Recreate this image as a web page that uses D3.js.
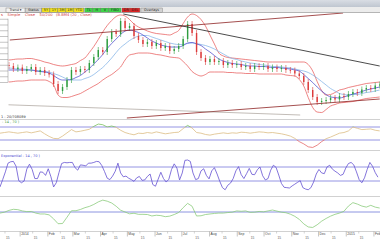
<!DOCTYPE html>
<html lang="en">
<head>
<script src="https://cdn.jsdelivr.net/npm/d3@7"></script>
<style>
  body { margin: 0; background: #fff; }
  svg { display: block; font-family: "DejaVu Sans", sans-serif; }
  text { white-space: pre; }
</style>
</head>
<body>
<div id="chart"></div>
<script>
// ---- data (one value every 5 days from 10 Dec 2013) ----
var startDate = new Date(2013, 11, 10);
var endDate = new Date(2015, 1, 8, 8);

var closeV = [1104,1106,1104,1098,1101,1094,1098,1102,1092,1096,
  1090,1087,1068,1054,1062,1076,1096,1092,1098,1096,
  1110,1122,1136,1132,1158,1172,1168,1194,1180,1184,
  1164,1156,1148,1152,1144,1150,1140,1144,1134,1138,
  1144,1158,1188,1170,1132,1120,1112,1118,1112,1114,
  1106,1110,1106,1108,1102,1104,1098,1104,1102,1104,
  1098,1101,1098,1100,1096,1095,1089,1084,1072,1056,
  1042,1032,1034,1036,1040,1037,1044,1042,1048,1052,
  1050,1057,1060,1058,1065,1067];
var bbUpper = [1116,1116,1116,1117,1118,1118,1119,1119,1117,1115,
  1112,1110,1107,1105,1104,1105,1107,1109,1115,1120,
  1131,1143,1157,1172,1185,1195,1203,1206,1204,1197,
  1188,1182,1178,1174,1171,1169,1168,1167,1166,1170,
  1175,1189,1202,1208,1205,1197,1184,1166,1148,1130,
  1124,1121,1120,1119,1118,1117,1116,1115,1114,1113,
  1112,1112,1112,1112,1112,1112,1112,1112,1112,1107,
  1094,1073,1055,1046,1047,1051,1056,1058,1061,1063,
  1065,1067,1069,1070,1071,1072];
var bbLower = [1072,1072,1072,1073,1074,1074,1075,1076,1076,1076,
  1076,1073,1066,1046,1041,1041,1043,1046,1049,1054,
  1059,1064,1069,1076,1082,1087,1094,1102,1116,1126,
  1128,1130,1130,1130,1129,1127,1126,1124,1122,1121,
  1120,1113,1104,1093,1087,1084,1087,1092,1092,1092,
  1092,1091,1091,1090,1090,1089,1089,1089,1088,1088,
  1088,1088,1088,1088,1086,1085,1084,1077,1064,1041,
  1021,1012,1011,1017,1024,1027,1030,1031,1032,1033,
  1035,1037,1039,1040,1041,1042];
var maFast = [1096,1096,1096,1096,1096,1096,1096,1096,1094,1093,
  1092,1090,1085,1079,1076,1076,1077,1081,1085,1092,
  1099,1108,1117,1127,1139,1149,1158,1167,1174,1176,
  1174,1171,1166,1160,1154,1150,1146,1144,1142,1142,
  1142,1145,1150,1151,1148,1145,1138,1132,1125,1118,
  1114,1111,1109,1108,1107,1105,1104,1104,1103,1103,
  1102,1101,1101,1100,1099,1098,1096,1094,1087,1079,
  1071,1062,1054,1047,1042,1041,1040,1042,1045,1048,
  1050,1053,1056,1058,1060,1062];
var maSlow = [1100,1100,1100,1099,1098,1098,1097,1096,1095,1094,
  1093,1092,1089,1086,1082,1078,1076,1076,1076,1079,
  1082,1087,1094,1101,1110,1120,1131,1141,1148,1155,
  1160,1164,1165,1165,1162,1159,1156,1153,1150,1148,
  1147,1147,1149,1150,1149,1147,1145,1142,1138,1133,
  1128,1123,1119,1117,1114,1112,1110,1109,1107,1106,
  1105,1103,1103,1102,1101,1100,1098,1096,1094,1091,
  1086,1080,1073,1066,1059,1054,1049,1047,1046,1047,
  1047,1049,1051,1052,1054,1056];
var rsiV = [51,53,55,53,51,53,55,52,55,58,
  49,41,35,34,42,52,62,55,57,60,
  63,72,79,77,70,73,69,60,53,49,
  46,51,50,53,51,55,52,49,51,53,
  54,65,75,67,53,51,47,45,48,50,
  52,50,52,51,54,53,51,53,55,54,
  52,53,51,49,46,42,35,25,18,9,
  7,14,25,34,39,45,51,53,58,70,
  66,62,63,64,60,58];
var momV = [-0.6,-0.1,0.9,1.5,1.3,0.6,0.2,0.3,-0.6,-1.1,
  -1.1,-1.6,-3.8,-6.5,-6.4,-2.9,0.7,0.7,1.4,2.4,
  3.1,4.2,5.6,6.6,6.0,5.0,3.2,1.0,0.0,-1.0,
  -0.7,-1.3,-1.3,-1.4,-2.2,-1.8,-2.0,-2.6,-2.3,-1.4,
  -0.3,2.4,4.8,3.2,-2.2,-2.1,-1.4,-1.1,-0.8,-0.6,
  -0.6,-0.3,-0.1,0.6,0.4,0.6,-0.2,-0.1,0.3,0.1,
  0.6,1.1,0.5,-0.1,-0.4,-1.2,-2.4,-4.1,-6.6,-8.3,
  -8.6,-7.1,-5.1,-3.6,-2.3,-1.3,-0.6,0.4,3.3,5.2,
  4.4,3.3,2.7,3.7,2.7,2.2];
// stochastic, one value every 3 days
var stochV = [13,34,56,81,85,86,72,31,25,30,
  64,78,63,37,37,56,55,46,65,42,
  13,25,54,80,83,82,83,83,68,61,
  76,75,73,81,81,83,86,85,74,57,
  38,34,44,58,81,53,42,44,38,34,
  29,39,43,32,33,43,50,20,15,35,
  55,37,27,35,63,79,67,33,53,89,
  90,86,53,34,37,59,65,46,36,59,
  68,50,29,11,5,18,24,37,59,71,
  48,37,51,66,49,48,62,70,45,33,
  37,61,75,69,47,23,12,11,10,16,
  21,26,31,11,7,5,11,27,50,63,
  53,51,70,75,64,58,53,46,49,67,
  80,83,76,56,34,25,39,63,83,72,
  54,41];

var rsiLevels = [30, 70];
var stochLevels = [30, 70];
var momLevels = [0];
var priceTicks = [1072,1083.5,1095,1106.5,1118,1129.5,1141,1152.5,1164,1175.5,1187,1198.5];

// drawn trend lines [date, price]
var trendLines = [
  [[new Date(2013, 11, 21), 1156], [new Date(2014, 11, 29), 1210]],
  [[new Date(2014, 3, 27), 1208], [new Date(2015, 1, 8), 1104]],
  [[new Date(2014, 4, 1), 1000], [new Date(2015, 1, 8), 1038]],
  [[new Date(2013, 11, 10), 1027], [new Date(2014, 10, 11), 1006]]
];
var trendColors = ["#8e2323", "#1e1e1e", "#8e2323", "#85786e"];

var toolButtons = [
  ["Trend \u25BE", "plain"], ["Status", "grey"],
  ["5Y", "yellow"], ["1Y", "yellow"], ["3M", "yellow"], ["1M", "yellow"], ["YTD", "yellow"],
  ["TL", "green"], ["H", "green"], ["V", "green"], ["FIBO", "green"],
  ["DR", "red"], ["DEL", "red"], ["Overlays", "grey"]
];
var buttonFill = {plain: "#f4f4f4", grey: "#d2d2d2", yellow: "#f2e21c", green: "#3fd24a", red: "#e02525"};

var dates = closeV.map(function(d, i) { return d3.timeDay.offset(startDate, 5 * i); });
var stochDates = stochV.map(function(d, i) { return d3.timeDay.offset(startDate, 3 * i); });

// ---- layout ----
var W = 380, H = 240;
var svg = d3.select("#chart").append("svg").attr("width", W).attr("height", H);
var defs = svg.append("defs");
function clip(id, x0, y0, w, h) {
  defs.append("clipPath").attr("id", id).append("rect")
    .attr("x", x0).attr("y", y0).attr("width", w).attr("height", h);
}

var x = d3.scaleTime().domain([startDate, endDate]).range([0, W]);
var y = d3.scaleLinear().domain([1000, 1202]).range([118, 17]);
var yRsi = d3.scaleLinear().domain([0, 100]).range([149.75, 117.25]);
var ySto = d3.scaleLinear().domain([0, 100]).range([191.5, 156.5]);
var yMom = d3.scaleLinear().domain([-10, 10]).range([230, 194]);

// toolbar
var grad = defs.append("linearGradient").attr("id", "bar").attr("x1", 0).attr("x2", 0).attr("y1", 0).attr("y2", 1);
grad.append("stop").attr("offset", "0%").attr("stop-color", "#d9dde4");
grad.append("stop").attr("offset", "100%").attr("stop-color", "#bfc6d0");
svg.append("rect").attr("width", W).attr("height", 7).attr("fill", "url(#bar)");
svg.append("rect").attr("y", 7).attr("width", W).attr("height", 5.5).attr("fill", "#ececec");

var bx = 6, prevKind = null;
toolButtons.forEach(function(b) {
  if (prevKind && prevKind !== b[1] && (b[1] === "green" || b[1] === "red" || b[0] === "Overlays")) bx += 1;
  var w = Math.max(8, 3 + b[0].length * 2.3);
  var g = svg.append("g").attr("transform", "translate(" + bx + ",8)");
  g.append("rect").attr("width", w).attr("height", 4.4)
    .attr("fill", buttonFill[b[1]]).attr("stroke", "#6f6f6f").attr("stroke-width", 0.4);
  g.append("text").attr("x", w / 2).attr("y", 3.4).attr("text-anchor", "middle")
    .attr("font-size", 3.4).attr("fill", "#222").text(b[0]);
  bx += w;
  prevKind = b[1];
});

// panel separators
[12.5, 119.5, 150.5, 196.5, 231.5].forEach(function(v, i) {
  svg.append("line").attr("x1", 0).attr("x2", W).attr("y1", v).attr("y2", v)
    .attr("stroke", i === 0 ? "#9a9a9a" : "#bdbdbd").attr("stroke-width", 0.7);
});

svg.append("text").attr("x", 1).attr("y", 16.4).attr("font-size", 3.7).attr("fill", "#d23a3a")
  .text("s    Simple    Close    50/200   (B.BM4 (20 , Close)");

// ---- main price panel ----
clip("cMain", 8.5, 12.8, W - 8.5, 106.5);
var main = svg.append("g").attr("clip-path", "url(#cMain)");

var line = function(arr, yy) {
  return d3.line().x(function(d, i) { return x(dates[i]); }).y(function(d) { return yy(d); })
    .curve(d3.curveMonotoneX)(arr);
};
main.append("path").attr("d", line(bbUpper, y)).attr("fill", "none").attr("stroke", "#e55050").attr("stroke-width", 0.7);
main.append("path").attr("d", line(bbLower, y)).attr("fill", "none").attr("stroke", "#e55050").attr("stroke-width", 0.7);
main.append("path").attr("d", line(maSlow, y)).attr("fill", "none").attr("stroke", "#8ab8e8").attr("stroke-width", 0.8);
main.append("path").attr("d", line(maFast, y)).attr("fill", "none").attr("stroke", "#3f3fc8").attr("stroke-width", 0.7);

var candles = closeV.map(function(c, i) {
  return {date: dates[i], open: i ? closeV[i - 1] : c, close: c};
});
main.selectAll("line.wick").data(candles).enter().append("line")
  .attr("x1", function(d) { return x(d.date); }).attr("x2", function(d) { return x(d.date); })
  .attr("y1", function(d) { return y(Math.max(d.open, d.close)) - 3; })
  .attr("y2", function(d) { return y(Math.min(d.open, d.close)) + 3; })
  .attr("stroke", function(d) { return d.close >= d.open ? "#2f9e40" : "#dc3b3b"; })
  .attr("stroke-width", 0.6);
main.selectAll("rect.body").data(candles).enter().append("rect")
  .attr("x", function(d) { return x(d.date) - 0.7; })
  .attr("y", function(d) { return y(Math.max(d.open, d.close)); })
  .attr("width", 1.4)
  .attr("height", function(d) { return Math.max(0.8, Math.abs(y(d.open) - y(d.close))); })
  .attr("fill", function(d) { return d.close >= d.open ? "#2f9e40" : "#dc3b3b"; });

main.selectAll("line.trend").data(trendLines).enter().append("line")
  .attr("x1", function(d) { return x(d[0][0]); }).attr("y1", function(d) { return y(d[0][1]); })
  .attr("x2", function(d) { return x(d[1][0]); }).attr("y2", function(d) { return y(d[1][1]); })
  .attr("stroke", function(d, i) { return trendColors[i]; })
  .attr("stroke-width", function(d, i) { return i === 3 ? 0.5 : 0.8; });

// left price scale boxes (labels cut off)
var yAxis = svg.append("g").attr("transform", "translate(8,0)")
  .call(d3.axisLeft(y).tickValues(priceTicks).tickSize(8).tickSizeOuter(0).tickFormat(""));
yAxis.select(".domain").attr("d", "M0," + y(priceTicks[priceTicks.length - 1]) + "V" + y(priceTicks[0]))
  .attr("stroke", "#8a8a8a").attr("stroke-width", 0.5);
yAxis.selectAll(".tick line").attr("stroke", "#8a8a8a").attr("stroke-width", 0.5);

svg.append("text").attr("x", 1).attr("y", 117.6).attr("font-size", 3.5).attr("fill", "#333")
  .text("1 - 20/708089");

// ---- RSI panel ----
svg.append("text").attr("x", 1).attr("y", 123.4).attr("font-size", 3.5).attr("fill", "#3f9a3f")
  .text(" - 14 , 70 )");
svg.selectAll("line.rsiLvl").data(rsiLevels).enter().append("line")
  .attr("x1", 0).attr("x2", W).attr("y1", yRsi).attr("y2", yRsi)
  .attr("stroke", "#7878dc").attr("stroke-width", 0.8);
clip("rsiHi", 0, 119.5, W, yRsi(70) - 119.5);
clip("rsiMid", 0, yRsi(70), W, yRsi(30) - yRsi(70));
clip("rsiLo", 0, yRsi(30), W, 150.5 - yRsi(30));
var rsiPath = d3.line().x(function(d, i) { return x(dates[i]); }).y(function(d) { return yRsi(d); })(rsiV);
[["rsiHi", "#7cc35e"], ["rsiMid", "#dcbd84"], ["rsiLo", "#e46a6a"]].forEach(function(c) {
  svg.append("path").attr("d", rsiPath).attr("clip-path", "url(#" + c[0] + ")")
    .attr("fill", "none").attr("stroke", c[1]).attr("stroke-width", 0.8);
});

// ---- stochastic panel ----
svg.append("text").attr("x", 1).attr("y", 156.6).attr("font-size", 3.5).attr("fill", "#4a4ad0")
  .text("Exponential - 14 , 70 )");
svg.selectAll("line.stoLvl").data(stochLevels).enter().append("line")
  .attr("x1", 0).attr("x2", W).attr("y1", ySto).attr("y2", ySto)
  .attr("stroke", "#7878dc").attr("stroke-width", 0.8);
clip("cSto", 0, 150.8, W, 45.5);
svg.append("path")
  .attr("d", d3.line().x(function(d, i) { return x(stochDates[i]); }).y(function(d) { return ySto(d); })(stochV))
  .attr("clip-path", "url(#cSto)")
  .attr("fill", "none").attr("stroke", "#6552d2").attr("stroke-width", 0.8);

// ---- momentum panel ----
svg.selectAll("line.momLvl").data(momLevels).enter().append("line")
  .attr("x1", 0).attr("x2", W).attr("y1", yMom).attr("y2", yMom)
  .attr("stroke", "#6f78d8").attr("stroke-width", 0.8);
clip("cMom", 0, 196.8, W, 34.5);
svg.append("path")
  .attr("d", d3.line().x(function(d, i) { return x(dates[i]); }).y(function(d) { return yMom(d); })(momV))
  .attr("clip-path", "url(#cMom)")
  .attr("fill", "none").attr("stroke", "#8ccc7c").attr("stroke-width", 0.8);

// ---- date axis ----
var months = d3.timeMonth.range(d3.timeMonth.ceil(startDate), endDate);
var mids = d3.timeMonth.range(d3.timeMonth.floor(startDate), endDate)
  .map(function(d) { return new Date(d.getFullYear(), d.getMonth(), 15); })
  .filter(function(d) { return d >= startDate && d <= endDate; });
var fmtMonth = function(d) { return d.getMonth() === 0 ? d3.timeFormat("%Y")(d) : d3.timeFormat("%b")(d); };

var xa = svg.append("g").attr("transform", "translate(0,231.5)")
  .call(d3.axisBottom(x).tickValues(months).tickSize(5).tickSizeOuter(0).tickFormat(fmtMonth));
xa.select(".domain").remove();
xa.selectAll(".tick line").attr("stroke", "#888").attr("stroke-width", 0.5);
xa.selectAll(".tick text").attr("text-anchor", "start").attr("x", 1).attr("y", 1.4).attr("dy", "0.71em")
  .attr("font-size", 3.4).attr("fill", "#444");

var xb = svg.append("g").attr("transform", "translate(0,231.5)")
  .call(d3.axisBottom(x).tickValues(mids).tickSize(2).tickSizeOuter(0).tickFormat(d3.timeFormat("%d")));
xb.select(".domain").remove();
xb.selectAll(".tick line").attr("stroke", "#aaa").attr("stroke-width", 0.5);
xb.selectAll(".tick text").attr("text-anchor", "start").attr("x", 1).attr("y", 5.6).attr("dy", "0.71em")
  .attr("font-size", 3.2).attr("fill", "#555");
</script>
</body>
</html>
